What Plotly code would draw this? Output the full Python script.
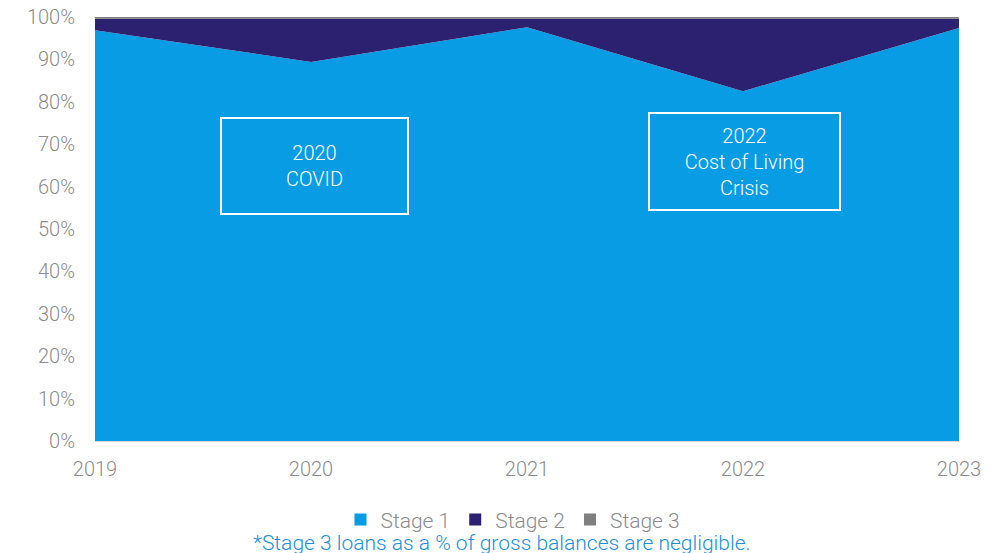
import plotly.graph_objects as go

years = [2019, 2020, 2021, 2022, 2023]
stage1 = [96.9, 89.4, 97.6, 82.5, 97.4]
stage3 = [0.4, 0.4, 0.4, 0.4, 0.4]
stage2 = [round(100 - a - c, 2) for a, c in zip(stage1, stage3)]

names = ["Stage 1", "Stage 2", "Stage 3"]
colors = ["#079CE3", "#2B2170", "#7F7F7F"]
series = [stage1, stage2, stage3]

y_ticks = list(range(0, 101, 10))
y_labels = [f"{v}%" for v in y_ticks]

notes = [
    {"x": 2020.016, "y": 64.8, "text": "2020<br>COVID", "w": 185, "h": 94},
    {"x": 2022.007, "y": 66.0, "text": "2022<br>Cost of Living<br>Crisis", "w": 189, "h": 95},
]
footnote = "*Stage 3 loans as a % of gross balances are negligible."

FONT = "Roboto"
GREY = "#8C8C8C"

fig = go.Figure()
for n, c, s in zip(names, colors, series):
    fig.add_trace(go.Scatter(
        x=years, y=s, name=n, mode="none", stackgroup="one",
        fillcolor=c, line=dict(width=0), hoverinfo="x+y+name", showlegend=False))
# legend-only square swatches
for n, c in zip(names, colors):
    fig.add_trace(go.Scatter(
        x=[None], y=[None], name=n, mode="markers",
        marker=dict(symbol="square", size=12, color=c), showlegend=True))

for a in notes:
    fig.add_annotation(
        x=a["x"], y=a["y"], xref="x", yref="y", text=a["text"], showarrow=False,
        width=a["w"], height=a["h"], bordercolor="white", borderwidth=2,
        borderpad=0, align="center", valign="middle",
        font=dict(family=FONT, size=20, color="white", weight=300))

fig.add_annotation(
    x=0.4716, y=-0.2406, xref="paper", yref="paper", xanchor="center", yanchor="middle",
    text=footnote, showarrow=False,
    font=dict(family=FONT, size=21, color="#1E8FD8", weight=300))

fig.update_layout(
    width=998, height=545,
    margin=dict(l=87, r=47, t=9, b=112, autoexpand=False),
    paper_bgcolor="white", plot_bgcolor="white",
    font=dict(family=FONT, size=20, color=GREY, weight=300),
    showlegend=True,
    legend=dict(orientation="h", xref="container", x=0.506, xanchor="center",
                yref="container", y=0.0606, yanchor="middle",
                font=dict(family=FONT, size=21, color=GREY, weight=300),
                traceorder="normal", itemwidth=30, tracegroupgap=0),
    xaxis=dict(range=[2019, 2023], tickvals=years, ticktext=[str(y) for y in years],
               showgrid=False, zeroline=False, showline=True, linecolor="#D9D9D9",
               linewidth=1, ticks="", automargin=False, ticklabelstandoff=10,
               ticklabeloverflow="allow",
               tickfont=dict(family=FONT, size=20, color=GREY, weight=300)),
    yaxis=dict(range=[0, 100], tickvals=y_ticks, ticktext=y_labels, showgrid=False,
               zeroline=False, showline=False, ticks="", ticklabelstandoff=19,
               automargin=False, ticklabeloverflow="allow",
               tickfont=dict(family=FONT, size=20, color=GREY, weight=300)),
)

fig.write_html("out.html")
